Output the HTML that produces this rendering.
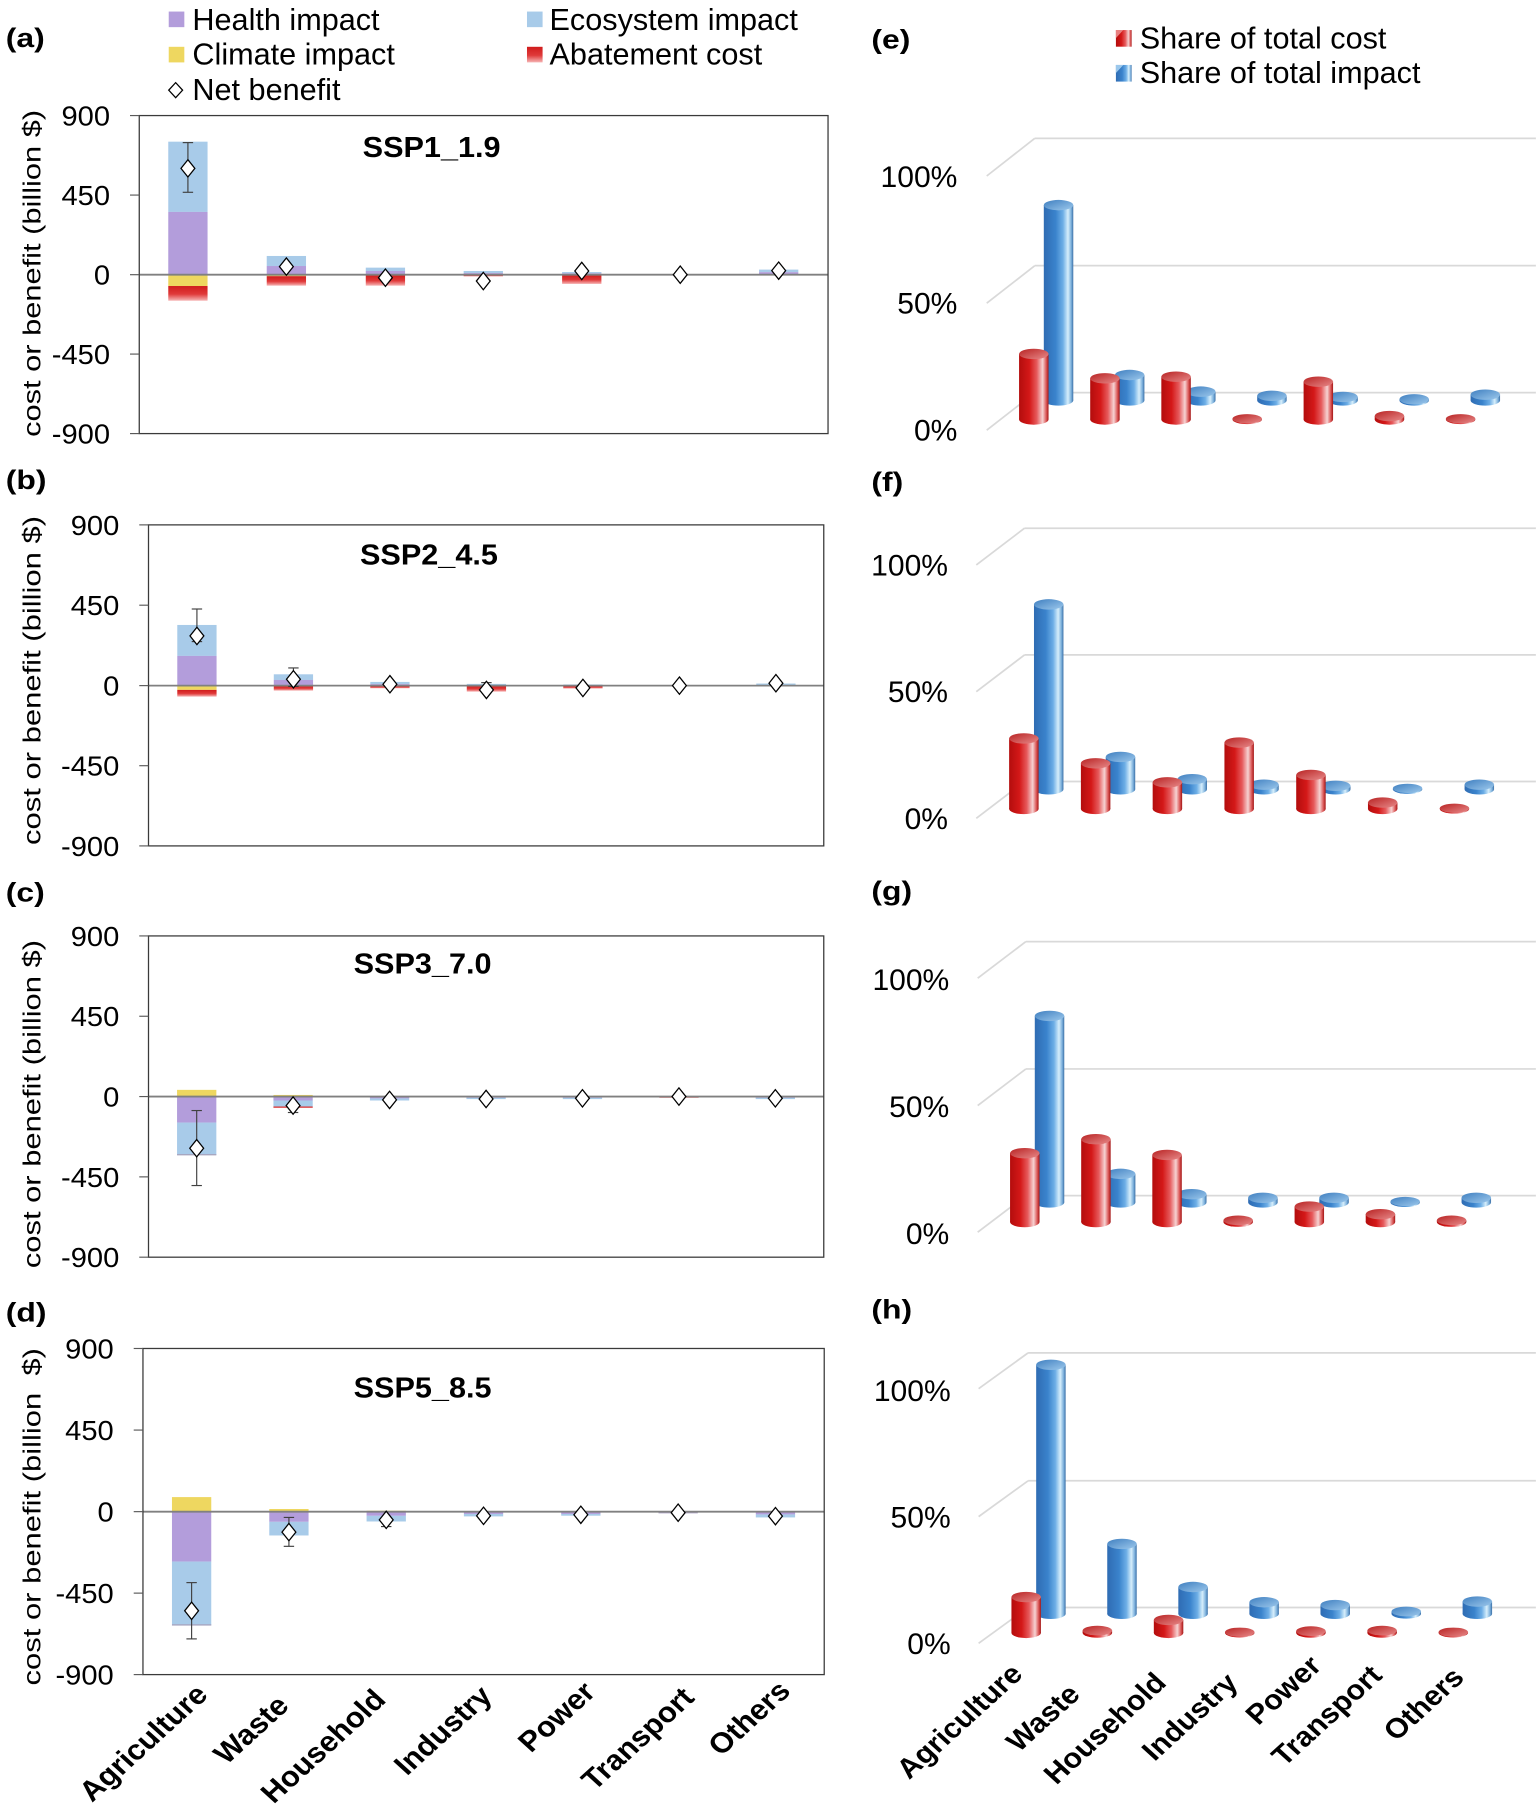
<!DOCTYPE html>
<html><head><meta charset="utf-8"><style>
html,body{margin:0;padding:0;background:#fff}
svg{display:block}
text{font-family:"Liberation Sans",Arial,sans-serif;fill:#000}
.lg{font-size:26.5px}
.tk{font-size:24px}
.ttl{font-size:25px;font-weight:bold}
.pl{font-size:23px;font-weight:bold}
.xl{font-size:24.5px;font-weight:bold}
.xr{font-size:24px;font-weight:bold}
.yl{font-size:22px}
.pc{font-size:26px}
</style></head><body>
<svg width="1536" height="1812" viewBox="0 0 1329.1 1568" preserveAspectRatio="none" xmlns="http://www.w3.org/2000/svg">
<defs>
<linearGradient id="ab" x1="0" y1="0" x2="0" y2="1"><stop offset="0" stop-color="#d01c1c"/><stop offset="0.55" stop-color="#e03a3a"/><stop offset="1" stop-color="#f6b4b4"/></linearGradient>
<linearGradient id="rb" x1="0" y1="0" x2="1" y2="0"><stop offset="0" stop-color="#b30d0d"/><stop offset="0.35" stop-color="#d41818"/><stop offset="0.6" stop-color="#e65a5c"/><stop offset="0.8" stop-color="#f6d2d2"/><stop offset="0.92" stop-color="#dc5a5a"/><stop offset="1" stop-color="#a31414"/></linearGradient>
<linearGradient id="rt" x1="0" y1="0" x2="1" y2="1"><stop offset="0" stop-color="#b82222"/><stop offset="1" stop-color="#e88a8a"/></linearGradient>
<linearGradient id="bb" x1="0" y1="0" x2="1" y2="0"><stop offset="0" stop-color="#2f6cb3"/><stop offset="0.4" stop-color="#3a83cc"/><stop offset="0.65" stop-color="#6daee6"/><stop offset="0.82" stop-color="#d6eefb"/><stop offset="0.93" stop-color="#7cb0dc"/><stop offset="1" stop-color="#3a6fa6"/></linearGradient>
<linearGradient id="bt" x1="0" y1="0" x2="1" y2="1"><stop offset="0" stop-color="#3f7fc0"/><stop offset="1" stop-color="#9cc8ec"/></linearGradient>
</defs>
<rect x="0" y="0" width="1329.1" height="1568" fill="#fff"/>

<!-- LEFT LEGEND -->
<rect x="146" y="10" width="13.5" height="13.5" fill="#b39ddb"/>
<text class="lg" x="166.5" y="26">Health impact</text>
<rect x="146" y="40.5" width="13.5" height="13.5" fill="#eed760"/>
<text class="lg" x="166.5" y="56">Climate impact</text>
<path d="M152,71.5 L158,78 L152,84.5 L146,78 Z" fill="#fff" stroke="#000" stroke-width="1.1"/>
<text class="lg" x="166.5" y="86.5">Net benefit</text>
<rect x="456" y="10" width="13.5" height="13.5" fill="#a8cbe9"/>
<text class="lg" x="475.5" y="26">Ecosystem impact</text>
<rect x="456" y="40.5" width="13.5" height="13.5" fill="url(#ab)"/>
<text class="lg" x="475.5" y="56">Abatement cost</text>

<!-- PANEL LABELS -->
<text class="pl" transform="translate(5,40.5) scale(1.2,1)">(a)</text>
<text class="pl" transform="translate(5,423) scale(1.2,1)">(b)</text>
<text class="pl" transform="translate(5,780) scale(1.2,1)">(c)</text>
<text class="pl" transform="translate(5,1143.5) scale(1.2,1)">(d)</text>
<text class="pl" transform="translate(754,42) scale(1.2,1)">(e)</text>
<text class="pl" transform="translate(754,425) scale(1.2,1)">(f)</text>
<text class="pl" transform="translate(754,779) scale(1.2,1)">(g)</text>
<text class="pl" transform="translate(754,1141) scale(1.2,1)">(h)</text>

<!-- Y AXIS LABELS -->
<text class="yl" transform="translate(35,378.1) rotate(-90)" textLength="283" lengthAdjust="spacingAndGlyphs">cost or benefit (billion $)</text>
<text class="yl" transform="translate(35,731.2) rotate(-90)" textLength="284.7" lengthAdjust="spacingAndGlyphs">cost or benefit (billion $)</text>
<text class="yl" transform="translate(35,1097.4) rotate(-90)" textLength="284" lengthAdjust="spacingAndGlyphs">cost or benefit (billion $)</text>
<text class="yl" transform="translate(35,1458.5) rotate(-90)" textLength="292" lengthAdjust="spacingAndGlyphs" xml:space="preserve">cost or benefit (billion  $)</text>

<!-- ================= PANEL A ================= -->
<g>
<rect x="145.6" y="122.6" width="34" height="60.8" fill="#a8cbe9"/>
<rect x="145.6" y="183.4" width="34" height="54.3" fill="#b39ddb"/>
<rect x="145.6" y="237.7" width="34" height="9.8" fill="#eed760"/>
<rect x="145.6" y="247.5" width="34" height="12.7" fill="url(#ab)"/>
<rect x="230.8" y="221.5" width="34" height="8.7" fill="#a8cbe9"/>
<rect x="230.8" y="230.2" width="34" height="7.5" fill="#b39ddb"/>
<rect x="230.8" y="237.7" width="34" height="1.3" fill="#eed760"/>
<rect x="230.8" y="239" width="34" height="8.2" fill="url(#ab)"/>
<rect x="316.5" y="231.6" width="34" height="2.9" fill="#a8cbe9"/>
<rect x="316.5" y="234.5" width="34" height="3.2" fill="#b39ddb"/>
<rect x="316.5" y="237.7" width="34" height="9.5" fill="url(#ab)"/>
<rect x="401.2" y="234.5" width="34" height="1.8" fill="#a8cbe9"/>
<rect x="401.2" y="236.3" width="34" height="1.4" fill="#b39ddb"/>
<rect x="401.2" y="237.7" width="34" height="1.5" fill="url(#ab)"/>
<rect x="486.4" y="235.4" width="34" height="1.1" fill="#a8cbe9"/>
<rect x="486.4" y="236.5" width="34" height="1.2" fill="#b39ddb"/>
<rect x="486.4" y="237.7" width="34" height="8" fill="url(#ab)"/>
<rect x="656.8" y="233.3" width="34" height="2.2" fill="#a8cbe9"/>
<rect x="656.8" y="235.5" width="34" height="2.2" fill="#b39ddb"/>
<line x1="120.5" y1="237.7" x2="716.5" y2="237.7" stroke="#808080" stroke-width="1.6"/>
<rect x="120.5" y="100" width="596" height="275.2" fill="none" stroke="#3a3a3a" stroke-width="1.1"/>
<g stroke="#595959" stroke-width="1"><line x1="112.5" y1="100" x2="120.5" y2="100"/><line x1="112.5" y1="168.8" x2="120.5" y2="168.8"/><line x1="112.5" y1="237.7" x2="120.5" y2="237.7"/><line x1="112.5" y1="306.4" x2="120.5" y2="306.4"/><line x1="112.5" y1="375.2" x2="120.5" y2="375.2"/></g>
<g text-anchor="end">
<text class="tk" transform="translate(95.2,108.6) scale(1.05,1)">900</text>
<text class="tk" transform="translate(95.2,177.4) scale(1.05,1)">450</text>
<text class="tk" transform="translate(95.2,246.3) scale(1.05,1)">0</text>
<text class="tk" transform="translate(95.2,315) scale(1.05,1)">-450</text>
<text class="tk" transform="translate(95.2,383.8) scale(1.05,1)">-900</text>
</g>
<text class="ttl" transform="translate(313.8,136) scale(1.06,1)">SSP1_1.9</text>
<g stroke="#404040" stroke-width="1"><line x1="162.6" y1="123.4" x2="162.6" y2="166.4"/><line x1="158.1" y1="123.4" x2="167.1" y2="123.4"/><line x1="158.1" y1="166.4" x2="167.1" y2="166.4"/></g>
<g fill="#fff" stroke="#000" stroke-width="1.1">
<path d="M162.6,138.2 L168.6,145.7 L162.6,153.2 L156.6,145.7 Z"/>
<path d="M247.8,223.2 L253.8,230.7 L247.8,238.2 L241.8,230.7 Z"/>
<path d="M333.5,232.8 L339.5,240.3 L333.5,247.8 L327.5,240.3 Z"/>
<path d="M418.2,235.7 L424.2,243.2 L418.2,250.7 L412.2,243.2 Z"/>
<path d="M503.4,227 L509.4,234.5 L503.4,242 L497.4,234.5 Z"/>
<path d="M588.6,230.2 L594.6,237.7 L588.6,245.2 L582.6,237.7 Z"/>
<path d="M673.8,226.7 L679.8,234.2 L673.8,241.7 L667.8,234.2 Z"/>
</g>
</g>

<!-- ================= PANEL B ================= -->
<g>
<rect x="153.4" y="540.8" width="34" height="26.8" fill="#a8cbe9"/>
<rect x="153.4" y="567.6" width="34" height="25.7" fill="#b39ddb"/>
<rect x="153.4" y="593.3" width="34" height="3.7" fill="#eed760"/>
<rect x="153.4" y="597" width="34" height="5.8" fill="url(#ab)"/>
<rect x="236.9" y="583.5" width="34" height="4.9" fill="#a8cbe9"/>
<rect x="236.9" y="588.4" width="34" height="4.9" fill="#b39ddb"/>
<rect x="236.9" y="593.3" width="34" height="4.3" fill="url(#ab)"/>
<rect x="320.4" y="590.1" width="34" height="1.9" fill="#a8cbe9"/>
<rect x="320.4" y="592" width="34" height="1.3" fill="#b39ddb"/>
<rect x="320.4" y="593.3" width="34" height="2.3" fill="url(#ab)"/>
<rect x="403.9" y="591.8" width="34" height="1.5" fill="#a8cbe9"/>
<rect x="403.9" y="593.3" width="34" height="5.2" fill="url(#ab)"/>
<rect x="487.4" y="592.3" width="34" height="1" fill="#a8cbe9"/>
<rect x="487.4" y="593.3" width="34" height="2.5" fill="url(#ab)"/>
<rect x="654.4" y="591.5" width="34" height="1.8" fill="#a8cbe9"/>
<line x1="128.5" y1="593.3" x2="712.8" y2="593.3" stroke="#808080" stroke-width="1.6"/>
<rect x="128.5" y="454.2" width="584.3" height="277.8" fill="none" stroke="#3a3a3a" stroke-width="1.1"/>
<g stroke="#595959" stroke-width="1"><line x1="120.5" y1="454.2" x2="128.5" y2="454.2"/><line x1="120.5" y1="523.7" x2="128.5" y2="523.7"/><line x1="120.5" y1="593.3" x2="128.5" y2="593.3"/><line x1="120.5" y1="662.6" x2="128.5" y2="662.6"/><line x1="120.5" y1="732" x2="128.5" y2="732"/></g>
<g text-anchor="end">
<text class="tk" transform="translate(103.2,462.8) scale(1.05,1)">900</text>
<text class="tk" transform="translate(103.2,532.3) scale(1.05,1)">450</text>
<text class="tk" transform="translate(103.2,601.9) scale(1.05,1)">0</text>
<text class="tk" transform="translate(103.2,671.2) scale(1.05,1)">-450</text>
<text class="tk" transform="translate(103.2,740.6) scale(1.05,1)">-900</text>
</g>
<text class="ttl" transform="translate(311.5,488.4) scale(1.06,1)">SSP2_4.5</text>
<g stroke="#404040" stroke-width="1">
<line x1="170.4" y1="527" x2="170.4" y2="555.2"/><line x1="165.9" y1="527" x2="174.9" y2="527"/><line x1="165.9" y1="555.2" x2="174.9" y2="555.2"/>
<line x1="253.9" y1="578" x2="253.9" y2="594"/><line x1="249.4" y1="578" x2="258.4" y2="578"/><line x1="249.4" y1="594" x2="258.4" y2="594"/>
<line x1="420.9" y1="590.7" x2="420.9" y2="600"/><line x1="416.4" y1="590.7" x2="425.4" y2="590.7"/>
</g>
<g fill="#fff" stroke="#000" stroke-width="1.1">
<path d="M170.4,542.8 L176.4,550.3 L170.4,557.8 L164.4,550.3 Z"/>
<path d="M253.9,580.3 L259.9,587.8 L253.9,595.3 L247.9,587.8 Z"/>
<path d="M337.4,584.6 L343.4,592.1 L337.4,599.6 L331.4,592.1 Z"/>
<path d="M420.9,589.5 L426.9,597 L420.9,604.5 L414.9,597 Z"/>
<path d="M504.4,587.8 L510.4,595.3 L504.4,602.8 L498.4,595.3 Z"/>
<path d="M587.9,585.8 L593.9,593.3 L587.9,600.8 L581.9,593.3 Z"/>
<path d="M671.4,583.7 L677.4,591.2 L671.4,598.7 L665.4,591.2 Z"/>
</g>
</g>

<!-- ================= PANEL C ================= -->
<g>
<rect x="153.2" y="943.1" width="34" height="5.8" fill="#eed760"/>
<rect x="153.2" y="948.9" width="34" height="22.5" fill="#b39ddb"/>
<rect x="153.2" y="971.4" width="34" height="28" fill="#a8cbe9"/>
<rect x="153.2" y="998.6" width="34" height="1.2" fill="#a7a7c0"/>
<rect x="236.6" y="947.5" width="34" height="1.4" fill="#eed760"/>
<rect x="236.6" y="948.9" width="34" height="3.4" fill="#b39ddb"/>
<rect x="236.6" y="952.3" width="34" height="5.2" fill="#a8cbe9"/>
<rect x="236.6" y="957.5" width="34" height="1.1" fill="#d83030"/>
<rect x="320.1" y="948.9" width="34" height="1.6" fill="#b39ddb"/>
<rect x="320.1" y="950.5" width="34" height="1.8" fill="#a8cbe9"/>
<rect x="403.6" y="948.9" width="34" height="1.1" fill="#b39ddb"/>
<rect x="403.6" y="950" width="34" height="1.1" fill="#a8cbe9"/>
<rect x="487" y="948.9" width="34" height="1.1" fill="#b39ddb"/>
<rect x="487" y="950" width="34" height="1.1" fill="#a8cbe9"/>
<rect x="570.5" y="948.9" width="34" height="1" fill="#d83030"/>
<rect x="653.9" y="948.9" width="34" height="1.1" fill="#b39ddb"/>
<rect x="653.9" y="950" width="34" height="1.1" fill="#a8cbe9"/>
<line x1="128.5" y1="948.9" x2="712.8" y2="948.9" stroke="#808080" stroke-width="1.6"/>
<rect x="128.5" y="809.9" width="584.3" height="278" fill="none" stroke="#3a3a3a" stroke-width="1.1"/>
<g stroke="#595959" stroke-width="1"><line x1="120.5" y1="809.9" x2="128.5" y2="809.9"/><line x1="120.5" y1="879.4" x2="128.5" y2="879.4"/><line x1="120.5" y1="948.9" x2="128.5" y2="948.9"/><line x1="120.5" y1="1018.4" x2="128.5" y2="1018.4"/><line x1="120.5" y1="1087.9" x2="128.5" y2="1087.9"/></g>
<g text-anchor="end">
<text class="tk" transform="translate(103.2,818.5) scale(1.05,1)">900</text>
<text class="tk" transform="translate(103.2,888) scale(1.05,1)">450</text>
<text class="tk" transform="translate(103.2,957.5) scale(1.05,1)">0</text>
<text class="tk" transform="translate(103.2,1027) scale(1.05,1)">-450</text>
<text class="tk" transform="translate(103.2,1096.5) scale(1.05,1)">-900</text>
</g>
<text class="ttl" transform="translate(306,842.6) scale(1.06,1)">SSP3_7.0</text>
<g stroke="#404040" stroke-width="1">
<line x1="170.2" y1="961" x2="170.2" y2="1025.9"/><line x1="165.7" y1="961" x2="174.7" y2="961"/><line x1="165.7" y1="1025.9" x2="174.7" y2="1025.9"/>
<line x1="253.6" y1="950" x2="253.6" y2="962.7"/><line x1="249.1" y1="962.7" x2="258.1" y2="962.7"/>
</g>
<g fill="#fff" stroke="#000" stroke-width="1.1">
<path d="M170.2,986.1 L176.2,993.6 L170.2,1001.1 L164.2,993.6 Z"/>
<path d="M253.6,949.2 L259.6,956.7 L253.6,964.2 L247.6,956.7 Z"/>
<path d="M337.1,944.3 L343.1,951.8 L337.1,959.3 L331.1,951.8 Z"/>
<path d="M420.6,943.5 L426.6,951 L420.6,958.5 L414.6,951 Z"/>
<path d="M504,942.9 L510,950.4 L504,957.9 L498,950.4 Z"/>
<path d="M587.5,941.4 L593.5,948.9 L587.5,956.4 L581.5,948.9 Z"/>
<path d="M670.9,942.9 L676.9,950.4 L670.9,957.9 L664.9,950.4 Z"/>
</g>
</g>

<!-- ================= PANEL D ================= -->
<g>
<rect x="148.8" y="1295.5" width="34" height="12.6" fill="#eed760"/>
<rect x="148.8" y="1308.1" width="34" height="43.2" fill="#b39ddb"/>
<rect x="148.8" y="1351.3" width="34" height="55.2" fill="#a8cbe9"/>
<rect x="148.8" y="1405.5" width="34" height="1.2" fill="#a7a7c0"/>
<rect x="233" y="1305.8" width="34" height="2.3" fill="#eed760"/>
<rect x="233" y="1308.1" width="34" height="8.8" fill="#b39ddb"/>
<rect x="233" y="1316.9" width="34" height="11.8" fill="#a8cbe9"/>
<rect x="317.2" y="1307.3" width="34" height="0.8" fill="#eed760"/>
<rect x="317.2" y="1308.1" width="34" height="3.6" fill="#b39ddb"/>
<rect x="317.2" y="1311.7" width="34" height="4.9" fill="#a8cbe9"/>
<rect x="401.4" y="1308.1" width="34" height="2" fill="#b39ddb"/>
<rect x="401.4" y="1310.1" width="34" height="2.1" fill="#a8cbe9"/>
<rect x="485.6" y="1308.1" width="34" height="2" fill="#b39ddb"/>
<rect x="485.6" y="1310.1" width="34" height="1.5" fill="#a8cbe9"/>
<rect x="569.8" y="1308.1" width="34" height="1.5" fill="#b0a8c8"/>
<rect x="654" y="1308.1" width="34" height="2.4" fill="#b39ddb"/>
<rect x="654" y="1310.5" width="34" height="2.6" fill="#a8cbe9"/>
<line x1="123.7" y1="1308.1" x2="713.2" y2="1308.1" stroke="#808080" stroke-width="1.6"/>
<rect x="123.7" y="1166.9" width="589.5" height="282.2" fill="none" stroke="#3a3a3a" stroke-width="1.1"/>
<g stroke="#595959" stroke-width="1"><line x1="115.7" y1="1166.9" x2="123.7" y2="1166.9"/><line x1="115.7" y1="1237.5" x2="123.7" y2="1237.5"/><line x1="115.7" y1="1308.1" x2="123.7" y2="1308.1"/><line x1="115.7" y1="1378.6" x2="123.7" y2="1378.6"/><line x1="115.7" y1="1449.1" x2="123.7" y2="1449.1"/></g>
<g text-anchor="end">
<text class="tk" transform="translate(98.4,1175.5) scale(1.05,1)">900</text>
<text class="tk" transform="translate(98.4,1246.1) scale(1.05,1)">450</text>
<text class="tk" transform="translate(98.4,1316.7) scale(1.05,1)">0</text>
<text class="tk" transform="translate(98.4,1387.2) scale(1.05,1)">-450</text>
<text class="tk" transform="translate(98.4,1457.7) scale(1.05,1)">-900</text>
</g>
<text class="ttl" transform="translate(306,1209.3) scale(1.06,1)">SSP5_8.5</text>
<g stroke="#404040" stroke-width="1">
<line x1="165.8" y1="1369.5" x2="165.8" y2="1418.2"/><line x1="161.3" y1="1369.5" x2="170.3" y2="1369.5"/><line x1="161.3" y1="1418.2" x2="170.3" y2="1418.2"/>
<line x1="250" y1="1313.1" x2="250" y2="1338.1"/><line x1="245.5" y1="1313.1" x2="254.5" y2="1313.1"/><line x1="245.5" y1="1338.1" x2="254.5" y2="1338.1"/>
<line x1="334.2" y1="1310" x2="334.2" y2="1321"/><line x1="329.7" y1="1321" x2="338.7" y2="1321"/>
</g>
<g fill="#fff" stroke="#000" stroke-width="1.1">
<path d="M165.8,1386.4 L171.8,1393.9 L165.8,1401.4 L159.8,1393.9 Z"/>
<path d="M250,1318.3 L256,1325.8 L250,1333.3 L244,1325.8 Z"/>
<path d="M334.2,1307.7 L340.2,1315.2 L334.2,1322.7 L328.2,1315.2 Z"/>
<path d="M418.4,1304.2 L424.4,1311.7 L418.4,1319.2 L412.4,1311.7 Z"/>
<path d="M502.6,1303.3 L508.6,1310.8 L502.6,1318.3 L496.6,1310.8 Z"/>
<path d="M586.8,1301.5 L592.8,1309 L586.8,1316.5 L580.8,1309 Z"/>
<path d="M671,1304.5 L677,1312 L671,1319.5 L665,1312 Z"/>
</g>
</g>

<!-- LEFT X LABELS -->
<g text-anchor="middle" dominant-baseline="central">
<text class="xl" transform="translate(124.3,1508.5) scale(1.1,1) rotate(-45)">Agriculture</text>
<text class="xl" transform="translate(217.6,1497) scale(1.1,1) rotate(-45)">Waste</text>
<text class="xl" transform="translate(279.9,1511.3) scale(1.1,1) rotate(-45)">Household</text>
<text class="xl" transform="translate(383.5,1497.6) scale(1.1,1) rotate(-45)">Industry</text>
<text class="xl" transform="translate(481.9,1486) scale(1.1,1) rotate(-45)">Power</text>
<text class="xl" transform="translate(552.1,1504.8) scale(1.1,1) rotate(-45)">Transport</text>
<text class="xl" transform="translate(648.5,1487) scale(1.1,1) rotate(-45)">Others</text>
</g>

<!-- RIGHT LEGEND -->
<rect x="965.6" y="26" width="13.6" height="14.4" fill="url(#rb)"/>
<path d="M965.6,26 L972,26 L965.6,33 Z" fill="#e88080"/>
<text class="lg" x="986.2" y="42">Share of total cost</text>
<rect x="965.6" y="56.2" width="13.6" height="14.4" fill="url(#bb)"/>
<path d="M965.6,56.2 L972,56.2 L965.6,63.2 Z" fill="#9cc8ec"/>
<text class="lg" x="986.2" y="72">Share of total impact</text>

<!-- ================= PANEL E ================= -->
<g stroke="#d9d9d9" stroke-width="1.5" fill="none">
<line x1="895.4" y1="119.7" x2="1329" y2="119.7"/><line x1="895.4" y1="229.9" x2="1329" y2="229.9"/><line x1="895.4" y1="339.8" x2="1329" y2="339.8"/>
<line x1="895.4" y1="119.7" x2="853.8" y2="152.3"/><line x1="895.4" y1="229.9" x2="853.8" y2="262.4"/><line x1="895.4" y1="339.8" x2="853.8" y2="372.3"/>
</g>
<g text-anchor="end">
<text class="pc" x="828.4" y="162">100%</text>
<text class="pc" x="828.4" y="271.5">50%</text>
<text class="pc" x="828.4" y="381.2">0%</text>
</g>

<!-- ================= PANEL F ================= -->
<g stroke="#d9d9d9" stroke-width="1.5" fill="none">
<line x1="886.5" y1="457.1" x2="1329" y2="457.1"/><line x1="886.5" y1="566.7" x2="1329" y2="566.7"/><line x1="886.5" y1="676.3" x2="1329" y2="676.3"/>
<line x1="886.5" y1="457.1" x2="844.8" y2="488.9"/><line x1="886.5" y1="566.7" x2="844.8" y2="598.5"/><line x1="886.5" y1="676.3" x2="844.8" y2="708.1"/>
</g>
<g text-anchor="end">
<text class="pc" x="820.3" y="498">100%</text>
<text class="pc" x="820.3" y="607.6">50%</text>
<text class="pc" x="820.3" y="717.2">0%</text>
</g>

<!-- ================= PANEL G ================= -->
<g stroke="#d9d9d9" stroke-width="1.5" fill="none">
<line x1="887.7" y1="814.8" x2="1329" y2="814.8"/><line x1="887.7" y1="925" x2="1329" y2="925"/><line x1="887.7" y1="1034.6" x2="1329" y2="1034.6"/>
<line x1="887.7" y1="814.8" x2="846" y2="846.5"/><line x1="887.7" y1="925" x2="846" y2="956.7"/><line x1="887.7" y1="1034.6" x2="846" y2="1066.3"/>
</g>
<g text-anchor="end">
<text class="pc" x="821.4" y="856.5">100%</text>
<text class="pc" x="821.4" y="966.7">50%</text>
<text class="pc" x="821.4" y="1076.3">0%</text>
</g>

<!-- ================= PANEL H ================= -->
<g stroke="#d9d9d9" stroke-width="1.5" fill="none">
<line x1="889.6" y1="1170.7" x2="1329" y2="1170.7"/><line x1="889.6" y1="1281.4" x2="1329" y2="1281.4"/><line x1="889.6" y1="1391" x2="1329" y2="1391"/>
<line x1="889.6" y1="1170.7" x2="846.8" y2="1201.7"/><line x1="889.6" y1="1281.4" x2="846.8" y2="1312.4"/><line x1="889.6" y1="1391" x2="846.8" y2="1422"/>
</g>
<g text-anchor="end">
<text class="pc" x="822.6" y="1212.3">100%</text>
<text class="pc" x="822.6" y="1321.8">50%</text>
<text class="pc" x="822.6" y="1431.1">0%</text>
</g>

<!-- CYLINDERS -->
<g transform="translate(903.2,346.5)"><ellipse cx="12.75" cy="0" rx="12.75" ry="4.5" fill="url(#bb)"/><rect x="0" y="-169" width="25.5" height="169" fill="url(#bb)"/><ellipse cx="12.75" cy="-169" rx="12.75" ry="4.5" fill="url(#bt)"/></g>
<g transform="translate(964.75,346.5)"><ellipse cx="12.75" cy="0" rx="12.75" ry="4.5" fill="url(#bb)"/><rect x="0" y="-22" width="25.5" height="22" fill="url(#bb)"/><ellipse cx="12.75" cy="-22" rx="12.75" ry="4.5" fill="url(#bt)"/></g>
<g transform="translate(1026.3,346.5)"><ellipse cx="12.75" cy="0" rx="12.75" ry="4.5" fill="url(#bb)"/><rect x="0" y="-7.6" width="25.5" height="7.6" fill="url(#bb)"/><ellipse cx="12.75" cy="-7.6" rx="12.75" ry="4.5" fill="url(#bt)"/></g>
<g transform="translate(1087.85,346.5)"><ellipse cx="12.75" cy="0" rx="12.75" ry="4.5" fill="url(#bb)"/><rect x="0" y="-4" width="25.5" height="4" fill="url(#bb)"/><ellipse cx="12.75" cy="-4" rx="12.75" ry="4.5" fill="url(#bt)"/></g>
<g transform="translate(1149.4,346.5)"><ellipse cx="12.75" cy="0" rx="12.75" ry="4.5" fill="url(#bb)"/><rect x="0" y="-3" width="25.5" height="3" fill="url(#bb)"/><ellipse cx="12.75" cy="-3" rx="12.75" ry="4.5" fill="url(#bt)"/></g>
<g transform="translate(1210.95,346.5)"><ellipse cx="12.75" cy="0" rx="12.75" ry="4.5" fill="url(#bb)"/><rect x="0" y="-1" width="25.5" height="1" fill="url(#bb)"/><ellipse cx="12.75" cy="-1" rx="12.75" ry="4.5" fill="url(#bt)"/></g>
<g transform="translate(1272.5,346.5)"><ellipse cx="12.75" cy="0" rx="12.75" ry="4.5" fill="url(#bb)"/><rect x="0" y="-5" width="25.5" height="5" fill="url(#bb)"/><ellipse cx="12.75" cy="-5" rx="12.75" ry="4.5" fill="url(#bt)"/></g>
<g transform="translate(881.8,363)"><ellipse cx="12.75" cy="0" rx="12.75" ry="4.5" fill="url(#rb)"/><rect x="0" y="-56.7" width="25.5" height="56.7" fill="url(#rb)"/><ellipse cx="12.75" cy="-56.7" rx="12.75" ry="4.5" fill="url(#rt)"/></g>
<g transform="translate(943.35,363)"><ellipse cx="12.75" cy="0" rx="12.75" ry="4.5" fill="url(#rb)"/><rect x="0" y="-35.6" width="25.5" height="35.6" fill="url(#rb)"/><ellipse cx="12.75" cy="-35.6" rx="12.75" ry="4.5" fill="url(#rt)"/></g>
<g transform="translate(1004.9,363)"><ellipse cx="12.75" cy="0" rx="12.75" ry="4.5" fill="url(#rb)"/><rect x="0" y="-37" width="25.5" height="37" fill="url(#rb)"/><ellipse cx="12.75" cy="-37" rx="12.75" ry="4.5" fill="url(#rt)"/></g>
<g transform="translate(1066.45,363)"><ellipse cx="12.75" cy="0" rx="12.75" ry="4" fill="url(#rb)"/><ellipse cx="12.75" cy="-0.6" rx="12.75" ry="4" fill="url(#rt)"/></g>
<g transform="translate(1128,363)"><ellipse cx="12.75" cy="0" rx="12.75" ry="4.5" fill="url(#rb)"/><rect x="0" y="-32.7" width="25.5" height="32.7" fill="url(#rb)"/><ellipse cx="12.75" cy="-32.7" rx="12.75" ry="4.5" fill="url(#rt)"/></g>
<g transform="translate(1189.55,363)"><ellipse cx="12.75" cy="0" rx="12.75" ry="4.5" fill="url(#rb)"/><rect x="0" y="-3" width="25.5" height="3" fill="url(#rb)"/><ellipse cx="12.75" cy="-3" rx="12.75" ry="4.5" fill="url(#rt)"/></g>
<g transform="translate(1251.1,363)"><ellipse cx="12.75" cy="0" rx="12.75" ry="4" fill="url(#rb)"/><ellipse cx="12.75" cy="-0.6" rx="12.75" ry="4" fill="url(#rt)"/></g>

<g transform="translate(894.7,683)"><ellipse cx="12.75" cy="0" rx="12.75" ry="4.5" fill="url(#bb)"/><rect x="0" y="-160" width="25.5" height="160" fill="url(#bb)"/><ellipse cx="12.75" cy="-160" rx="12.75" ry="4.5" fill="url(#bt)"/></g>
<g transform="translate(956.8,683)"><ellipse cx="12.75" cy="0" rx="12.75" ry="4.5" fill="url(#bb)"/><rect x="0" y="-28" width="25.5" height="28" fill="url(#bb)"/><ellipse cx="12.75" cy="-28" rx="12.75" ry="4.5" fill="url(#bt)"/></g>
<g transform="translate(1018.9,683)"><ellipse cx="12.75" cy="0" rx="12.75" ry="4.5" fill="url(#bb)"/><rect x="0" y="-8.7" width="25.5" height="8.7" fill="url(#bb)"/><ellipse cx="12.75" cy="-8.7" rx="12.75" ry="4.5" fill="url(#bt)"/></g>
<g transform="translate(1081,683)"><ellipse cx="12.75" cy="0" rx="12.75" ry="4.5" fill="url(#bb)"/><rect x="0" y="-4" width="25.5" height="4" fill="url(#bb)"/><ellipse cx="12.75" cy="-4" rx="12.75" ry="4.5" fill="url(#bt)"/></g>
<g transform="translate(1143.1,683)"><ellipse cx="12.75" cy="0" rx="12.75" ry="4.5" fill="url(#bb)"/><rect x="0" y="-3" width="25.5" height="3" fill="url(#bb)"/><ellipse cx="12.75" cy="-3" rx="12.75" ry="4.5" fill="url(#bt)"/></g>
<g transform="translate(1205.2,683)"><ellipse cx="12.75" cy="0" rx="12.75" ry="4" fill="url(#bb)"/><ellipse cx="12.75" cy="-0.8" rx="12.75" ry="4" fill="url(#bt)"/></g>
<g transform="translate(1267.3,683)"><ellipse cx="12.75" cy="0" rx="12.75" ry="4.5" fill="url(#bb)"/><rect x="0" y="-4" width="25.5" height="4" fill="url(#bb)"/><ellipse cx="12.75" cy="-4" rx="12.75" ry="4.5" fill="url(#bt)"/></g>
<g transform="translate(873.2,700)"><ellipse cx="12.75" cy="0" rx="12.75" ry="4.5" fill="url(#rb)"/><rect x="0" y="-61" width="25.5" height="61" fill="url(#rb)"/><ellipse cx="12.75" cy="-61" rx="12.75" ry="4.5" fill="url(#rt)"/></g>
<g transform="translate(935.3,700)"><ellipse cx="12.75" cy="0" rx="12.75" ry="4.5" fill="url(#rb)"/><rect x="0" y="-39.5" width="25.5" height="39.5" fill="url(#rb)"/><ellipse cx="12.75" cy="-39.5" rx="12.75" ry="4.5" fill="url(#rt)"/></g>
<g transform="translate(997.4,700)"><ellipse cx="12.75" cy="0" rx="12.75" ry="4.5" fill="url(#rb)"/><rect x="0" y="-23" width="25.5" height="23" fill="url(#rb)"/><ellipse cx="12.75" cy="-23" rx="12.75" ry="4.5" fill="url(#rt)"/></g>
<g transform="translate(1059.5,700)"><ellipse cx="12.75" cy="0" rx="12.75" ry="4.5" fill="url(#rb)"/><rect x="0" y="-57.4" width="25.5" height="57.4" fill="url(#rb)"/><ellipse cx="12.75" cy="-57.4" rx="12.75" ry="4.5" fill="url(#rt)"/></g>
<g transform="translate(1121.6,700)"><ellipse cx="12.75" cy="0" rx="12.75" ry="4.5" fill="url(#rb)"/><rect x="0" y="-29.4" width="25.5" height="29.4" fill="url(#rb)"/><ellipse cx="12.75" cy="-29.4" rx="12.75" ry="4.5" fill="url(#rt)"/></g>
<g transform="translate(1183.7,700)"><ellipse cx="12.75" cy="0" rx="12.75" ry="4.5" fill="url(#rb)"/><rect x="0" y="-5.5" width="25.5" height="5.5" fill="url(#rb)"/><ellipse cx="12.75" cy="-5.5" rx="12.75" ry="4.5" fill="url(#rt)"/></g>
<g transform="translate(1245.8,700)"><ellipse cx="12.75" cy="0" rx="12.75" ry="4" fill="url(#rb)"/><ellipse cx="12.75" cy="-0.6" rx="12.75" ry="4" fill="url(#rt)"/></g>

<g transform="translate(895.4,1040.5)"><ellipse cx="12.75" cy="0" rx="12.75" ry="4.5" fill="url(#bb)"/><rect x="0" y="-161.4" width="25.5" height="161.4" fill="url(#bb)"/><ellipse cx="12.75" cy="-161.4" rx="12.75" ry="4.5" fill="url(#bt)"/></g>
<g transform="translate(956.95,1040.5)"><ellipse cx="12.75" cy="0" rx="12.75" ry="4.5" fill="url(#bb)"/><rect x="0" y="-24.7" width="25.5" height="24.7" fill="url(#bb)"/><ellipse cx="12.75" cy="-24.7" rx="12.75" ry="4.5" fill="url(#bt)"/></g>
<g transform="translate(1018.5,1040.5)"><ellipse cx="12.75" cy="0" rx="12.75" ry="4.5" fill="url(#bb)"/><rect x="0" y="-7.1" width="25.5" height="7.1" fill="url(#bb)"/><ellipse cx="12.75" cy="-7.1" rx="12.75" ry="4.5" fill="url(#bt)"/></g>
<g transform="translate(1080.05,1040.5)"><ellipse cx="12.75" cy="0" rx="12.75" ry="4.5" fill="url(#bb)"/><rect x="0" y="-4" width="25.5" height="4" fill="url(#bb)"/><ellipse cx="12.75" cy="-4" rx="12.75" ry="4.5" fill="url(#bt)"/></g>
<g transform="translate(1141.6,1040.5)"><ellipse cx="12.75" cy="0" rx="12.75" ry="4.5" fill="url(#bb)"/><rect x="0" y="-4" width="25.5" height="4" fill="url(#bb)"/><ellipse cx="12.75" cy="-4" rx="12.75" ry="4.5" fill="url(#bt)"/></g>
<g transform="translate(1203.15,1040.5)"><ellipse cx="12.75" cy="0" rx="12.75" ry="4" fill="url(#bb)"/><ellipse cx="12.75" cy="-0.8" rx="12.75" ry="4" fill="url(#bt)"/></g>
<g transform="translate(1264.7,1040.5)"><ellipse cx="12.75" cy="0" rx="12.75" ry="4.5" fill="url(#bb)"/><rect x="0" y="-4" width="25.5" height="4" fill="url(#bb)"/><ellipse cx="12.75" cy="-4" rx="12.75" ry="4.5" fill="url(#bt)"/></g>
<g transform="translate(874,1057.5)"><ellipse cx="12.75" cy="0" rx="12.75" ry="4.5" fill="url(#rb)"/><rect x="0" y="-59.6" width="25.5" height="59.6" fill="url(#rb)"/><ellipse cx="12.75" cy="-59.6" rx="12.75" ry="4.5" fill="url(#rt)"/></g>
<g transform="translate(935.55,1057.5)"><ellipse cx="12.75" cy="0" rx="12.75" ry="4.5" fill="url(#rb)"/><rect x="0" y="-71.7" width="25.5" height="71.7" fill="url(#rb)"/><ellipse cx="12.75" cy="-71.7" rx="12.75" ry="4.5" fill="url(#rt)"/></g>
<g transform="translate(997.1,1057.5)"><ellipse cx="12.75" cy="0" rx="12.75" ry="4.5" fill="url(#rb)"/><rect x="0" y="-58.1" width="25.5" height="58.1" fill="url(#rb)"/><ellipse cx="12.75" cy="-58.1" rx="12.75" ry="4.5" fill="url(#rt)"/></g>
<g transform="translate(1058.65,1057.5)"><ellipse cx="12.75" cy="0" rx="12.75" ry="4.2" fill="url(#rb)"/><rect x="0" y="-1.5" width="25.5" height="1.5" fill="url(#rb)"/><ellipse cx="12.75" cy="-1.5" rx="12.75" ry="4.2" fill="url(#rt)"/></g>
<g transform="translate(1120.2,1057.5)"><ellipse cx="12.75" cy="0" rx="12.75" ry="4.5" fill="url(#rb)"/><rect x="0" y="-13.4" width="25.5" height="13.4" fill="url(#rb)"/><ellipse cx="12.75" cy="-13.4" rx="12.75" ry="4.5" fill="url(#rt)"/></g>
<g transform="translate(1181.75,1057.5)"><ellipse cx="12.75" cy="0" rx="12.75" ry="4.5" fill="url(#rb)"/><rect x="0" y="-6.8" width="25.5" height="6.8" fill="url(#rb)"/><ellipse cx="12.75" cy="-6.8" rx="12.75" ry="4.5" fill="url(#rt)"/></g>
<g transform="translate(1243.3,1057.5)"><ellipse cx="12.75" cy="0" rx="12.75" ry="4.2" fill="url(#rb)"/><rect x="0" y="-1.5" width="25.5" height="1.5" fill="url(#rb)"/><ellipse cx="12.75" cy="-1.5" rx="12.75" ry="4.2" fill="url(#rt)"/></g>

<g transform="translate(896.6,1396.5)"><ellipse cx="12.75" cy="0" rx="12.75" ry="4.5" fill="url(#bb)"/><rect x="0" y="-215.5" width="25.5" height="215.5" fill="url(#bb)"/><ellipse cx="12.75" cy="-215.5" rx="12.75" ry="4.5" fill="url(#bt)"/></g>
<g transform="translate(958.1,1396.5)"><ellipse cx="12.75" cy="0" rx="12.75" ry="4.5" fill="url(#bb)"/><rect x="0" y="-60.5" width="25.5" height="60.5" fill="url(#bb)"/><ellipse cx="12.75" cy="-60.5" rx="12.75" ry="4.5" fill="url(#bt)"/></g>
<g transform="translate(1019.6,1396.5)"><ellipse cx="12.75" cy="0" rx="12.75" ry="4.5" fill="url(#bb)"/><rect x="0" y="-23.2" width="25.5" height="23.2" fill="url(#bb)"/><ellipse cx="12.75" cy="-23.2" rx="12.75" ry="4.5" fill="url(#bt)"/></g>
<g transform="translate(1081.1,1396.5)"><ellipse cx="12.75" cy="0" rx="12.75" ry="4.5" fill="url(#bb)"/><rect x="0" y="-10" width="25.5" height="10" fill="url(#bb)"/><ellipse cx="12.75" cy="-10" rx="12.75" ry="4.5" fill="url(#bt)"/></g>
<g transform="translate(1142.6,1396.5)"><ellipse cx="12.75" cy="0" rx="12.75" ry="4.5" fill="url(#bb)"/><rect x="0" y="-7.6" width="25.5" height="7.6" fill="url(#bb)"/><ellipse cx="12.75" cy="-7.6" rx="12.75" ry="4.5" fill="url(#bt)"/></g>
<g transform="translate(1204.1,1396.5)"><ellipse cx="12.75" cy="0" rx="12.75" ry="4.2" fill="url(#bb)"/><rect x="0" y="-2" width="25.5" height="2" fill="url(#bb)"/><ellipse cx="12.75" cy="-2" rx="12.75" ry="4.2" fill="url(#bt)"/></g>
<g transform="translate(1265.6,1396.5)"><ellipse cx="12.75" cy="0" rx="12.75" ry="4.5" fill="url(#bb)"/><rect x="0" y="-10.6" width="25.5" height="10.6" fill="url(#bb)"/><ellipse cx="12.75" cy="-10.6" rx="12.75" ry="4.5" fill="url(#bt)"/></g>
<g transform="translate(875.2,1413)"><ellipse cx="12.75" cy="0" rx="12.75" ry="4.5" fill="url(#rb)"/><rect x="0" y="-31" width="25.5" height="31" fill="url(#rb)"/><ellipse cx="12.75" cy="-31" rx="12.75" ry="4.5" fill="url(#rt)"/></g>
<g transform="translate(936.8,1413)"><ellipse cx="12.75" cy="0" rx="12.75" ry="4.2" fill="url(#rb)"/><rect x="0" y="-2" width="25.5" height="2" fill="url(#rb)"/><ellipse cx="12.75" cy="-2" rx="12.75" ry="4.2" fill="url(#rt)"/></g>
<g transform="translate(998.4,1413)"><ellipse cx="12.75" cy="0" rx="12.75" ry="4.5" fill="url(#rb)"/><rect x="0" y="-11.2" width="25.5" height="11.2" fill="url(#rb)"/><ellipse cx="12.75" cy="-11.2" rx="12.75" ry="4.5" fill="url(#rt)"/></g>
<g transform="translate(1060,1413)"><ellipse cx="12.75" cy="0" rx="12.75" ry="4" fill="url(#rb)"/><ellipse cx="12.75" cy="-0.6" rx="12.75" ry="4" fill="url(#rt)"/></g>
<g transform="translate(1121.6,1413)"><ellipse cx="12.75" cy="0" rx="12.75" ry="4.2" fill="url(#rb)"/><rect x="0" y="-1.5" width="25.5" height="1.5" fill="url(#rb)"/><ellipse cx="12.75" cy="-1.5" rx="12.75" ry="4.2" fill="url(#rt)"/></g>
<g transform="translate(1183.2,1413)"><ellipse cx="12.75" cy="0" rx="12.75" ry="4.2" fill="url(#rb)"/><rect x="0" y="-2" width="25.5" height="2" fill="url(#rb)"/><ellipse cx="12.75" cy="-2" rx="12.75" ry="4.2" fill="url(#rt)"/></g>
<g transform="translate(1244.8,1413)"><ellipse cx="12.75" cy="0" rx="12.75" ry="4" fill="url(#rb)"/><ellipse cx="12.75" cy="-0.6" rx="12.75" ry="4" fill="url(#rt)"/></g>

<!-- RIGHT X LABELS -->
<g text-anchor="middle" dominant-baseline="central">
<text class="xr" transform="translate(830.7,1490) scale(1.1,1) rotate(-45)">Agriculture</text>
<text class="xr" transform="translate(903,1487) scale(1.1,1) rotate(-45)">Waste</text>
<text class="xr" transform="translate(956.5,1496) scale(1.1,1) rotate(-45)">Household</text>
<text class="xr" transform="translate(1030,1486) scale(1.1,1) rotate(-45)">Industry</text>
<text class="xr" transform="translate(1111,1463) scale(1.1,1) rotate(-45)">Power</text>
<text class="xr" transform="translate(1148.5,1485) scale(1.1,1) rotate(-45)">Transport</text>
<text class="xr" transform="translate(1232.4,1475) scale(1.1,1) rotate(-45)">Others</text>
</g>
</svg>
</body></html>
